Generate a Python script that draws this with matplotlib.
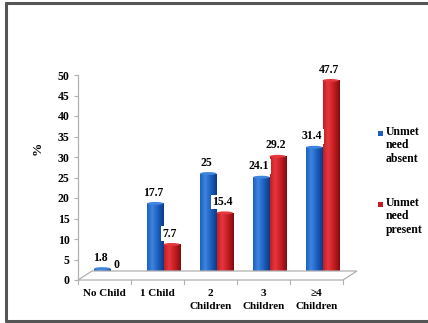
import numpy as np
import matplotlib
matplotlib.use("Agg")
import matplotlib.pyplot as plt
import matplotlib.transforms as mtransforms
from matplotlib.patches import Ellipse, Polygon
from matplotlib.lines import Line2D

plt.rcParams['font.family'] = ['Liberation Serif', 'DejaVu Serif']
plt.rcParams['font.weight'] = 'bold'

# data
categories = ['No Child', '1 Child', '2\nChildren', '3\nChildren', '\u22654\nChildren']
unmet_absent = [1.8, 17.7, 25, 24.1, 31.4]
unmet_present = [0, 7.7, 15.4, 29.2, 47.7]
series_names = ['Unmet\nneed\nabsent', 'Unmet\nneed\npresent']

W, H = 428, 323
fig = plt.figure(figsize=(W / 100, H / 100), dpi=100)
fig.patch.set_facecolor('white')

def fx(px):
    return px / W

def fy(py):
    return 1 - py / H

# plot area: front edge of floor 78..343 px, value 0 at 280 px, 50 at 75 px
ax = fig.add_axes([fx(78), fy(280), fx(343) - fx(78), fy(75) - fy(280)])
ax.set_xlim(-0.5, 4.5)
ax.set_ylim(0, 50)
ax.patch.set_alpha(0)

# floor of the 3d plot
floor = Polygon([[fx(78), fy(280)], [fx(343), fy(280)], [fx(357), fy(271)], [fx(92), fy(271)]],
                closed=True, transform=fig.transFigure, facecolor='white',
                edgecolor='#b0b0b0', lw=0.9, zorder=0)
fig.patches.append(floor)
for k in range(6):
    xk = 78 + 53 * k
    fig.add_artist(Line2D([fx(xk), fx(xk)], [fy(280), fy(284)], color='#b0b0b0', lw=0.8))

# bars sit back on the floor, shifted right/up
depth = mtransforms.offset_copy(ax.transData, fig=fig, x=6, y=4, units='dots')
x = np.arange(len(categories))
bw = 0.31

def gradient(base_light, base, base_dark):
    c = np.array([matplotlib.colors.to_rgb(base), matplotlib.colors.to_rgb(base_light),
                  matplotlib.colors.to_rgb(base), matplotlib.colors.to_rgb(base_dark)])
    pos = np.linspace(0, 1, 64)
    stops = [0, 0.3, 0.65, 1]
    img = np.stack([np.interp(pos, stops, c[:, j]) for j in range(3)], axis=-1)
    return img[np.newaxis, :, :]

styles = [('#3f84de', '#1c5fc0', '#0c3a85'), ('#e5383e', '#c41c22', '#800c10')]

for s, vals in enumerate([unmet_absent, unmet_present]):
    light, base, dark = styles[s]
    xs = x - bw / 2 + s * bw
    bars = ax.bar(xs, vals, width=bw, color=base, transform=depth, zorder=3)
    img = gradient(light, base, dark)
    for b, xv, v in zip(bars, xs, vals):
        if v > 0:
            im = ax.imshow(img, extent=[xv - bw / 2, xv + bw / 2, 0, v], aspect='auto',
                           transform=depth, zorder=3.5, interpolation='bilinear')
            im.set_clip_path(b)
        # rounded bottom and top caps
        ax.add_patch(Ellipse((xv, 0), bw, 0.7, transform=depth, facecolor=dark,
                             edgecolor='none', zorder=3.2))
        ax.add_patch(Ellipse((xv, v), bw, 0.7, transform=depth, facecolor=light if v > 0 else base,
                             edgecolor='none', zorder=3.8))
        ax.annotate(f'{v:g}', (xv, v), xycoords=depth, xytext=(-1.5, 3.5), textcoords='offset points',
                    ha='center', va='bottom', fontsize=8.5, fontweight='bold', zorder=5,
                    bbox=dict(boxstyle='square,pad=0.1', facecolor='white', edgecolor='none'))
    ax.set_xlim(-0.5, 4.5)
    ax.set_ylim(0, 50)

for sp in ['top', 'right', 'bottom']:
    ax.spines[sp].set_visible(False)
ax.spines['left'].set_color('#b0b0b0')
ax.spines['left'].set_linewidth(0.9)
ax.set_yticks(range(0, 51, 5))
ax.tick_params(axis='y', length=3, color='#b0b0b0', labelsize=8.5, pad=3)
ax.set_xticks(x)
ax.set_xticklabels(categories, fontsize=8, fontweight='bold', linespacing=1.5)
ax.tick_params(axis='x', length=0, pad=6.5)
for t in ax.get_yticklabels() + ax.get_xticklabels():
    t.set_fontweight('bold')
fig.text(fx(38), fy(148), '%', fontsize=9.5, fontweight='bold', rotation=90,
         ha='center', va='center')

# legend on the right
for (light, base, dark), name, py in zip(styles, series_names, [133, 204]):
    fig.add_artist(plt.Rectangle((fx(378), fy(py + 2.5)), fx(5), fy(0) - fy(5),
                                 transform=fig.transFigure, facecolor=base, edgecolor='none'))
    fig.text(fx(386), fy(py - 7), name, fontsize=8.5, fontweight='bold', va='top', ha='left',
             linespacing=1.15)

# outer frame (left, top, bottom)
frame = dict(color='#555555', lw=2.2, solid_capstyle='butt')
fig.add_artist(Line2D([fx(6), fx(6)], [fy(2), fy(322)], **frame))
fig.add_artist(Line2D([fx(5), fx(428)], [fy(3), fy(3)], **frame))
fig.add_artist(Line2D([fx(5), fx(428)], [fy(321), fy(321)], **frame))

fig.savefig('out.png', dpi=100)
